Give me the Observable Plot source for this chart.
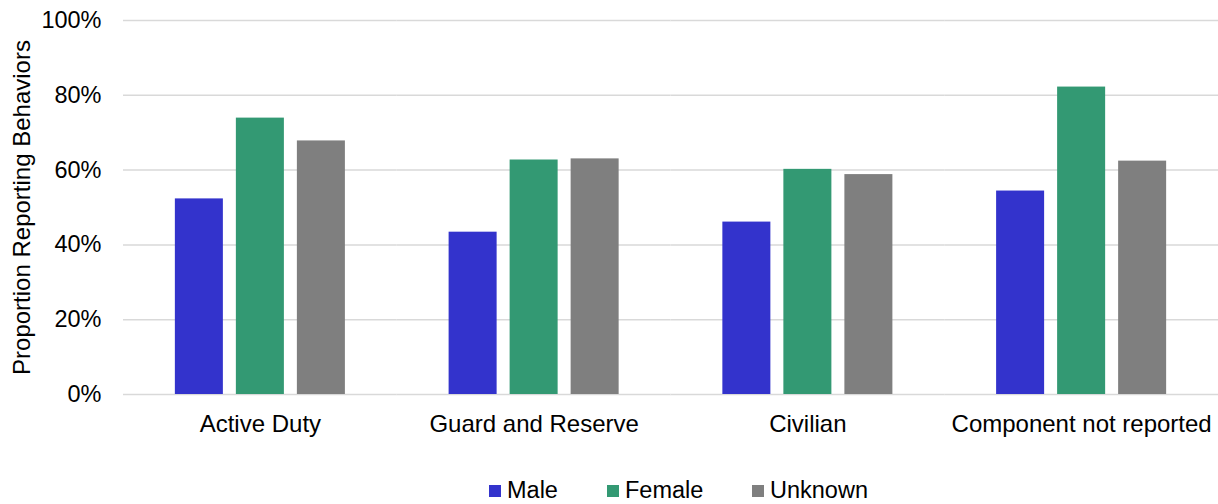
<!DOCTYPE html>
<html>
<head>
<meta charset="utf-8">
<script src="https://cdn.jsdelivr.net/npm/d3@7"></script>
<script src="https://cdn.jsdelivr.net/npm/@observablehq/plot@0.6"></script>
<style>
  html, body { margin: 0; padding: 0; background: #fff; }
  body { width: 1218px; height: 504px; overflow: hidden; font-family: "Liberation Sans", Arial, sans-serif; }
  #legend { position: relative; height: 54px; }
  .item { position: absolute; top: 29px; font-size: 23.5px; color: #000; line-height: 1; display: flex; align-items: center; }
  .sw { width: 12px; height: 12px; margin-right: 6px; display: inline-block; }
</style>
</head>
<body>
<div id="chart"></div>
<div id="legend"></div>
<script>
const categories = ["Active Duty", "Guard and Reserve", "Civilian", "Component not reported"];
const genders = ["Male", "Female", "Unknown"];
const colors = ["#3333cc", "#339973", "#7f7f7f"];
const male = [52.3, 43.4, 46.1, 54.4];
const female = [73.9, 62.7, 60.2, 82.2];
const unknown = [67.8, 63.0, 58.8, 62.4];
const yTicks = [0, 20, 40, 60, 80, 100];

const series = [male, female, unknown];
const data = [];
categories.forEach((c, i) => {
  genders.forEach((g, j) => data.push({category: c, gender: g, value: series[j][i]}));
});

const chart = Plot.plot({
  width: 1218,
  height: 450,
  marginLeft: 123,
  marginRight: 0,
  marginTop: 20,
  marginBottom: 56,
  style: {fontFamily: "'Liberation Sans', Arial, sans-serif", fontSize: "23.5px", color: "#000", background: "#fff"},
  fx: {domain: categories, padding: 0, round: false, label: null, axis: null},
  x: {domain: genders, paddingInner: 0.213, paddingOuter: 0.85, round: false, axis: null},
  y: {domain: [0, 100], ticks: yTicks, label: null, axis: null},
  color: {domain: genders, range: colors},
  marks: [
    Plot.ruleY(yTicks, {stroke: "#d9d9d9", strokeWidth: 1.5, facet: "exclude"}),
    Plot.barY(data, {fx: "category", x: "gender", y: "value", fill: "gender"}),
    Plot.axisY({ticks: yTicks, tickSize: 0, tickPadding: 22, tickFormat: d => d + "%", fontSize: 23.5, label: null, anchor: "left"}),
    Plot.axisFx({anchor: "bottom", tickSize: 0, tickPadding: 20, fontSize: 24, label: null})
  ]
});
document.getElementById("chart").appendChild(chart);

// y-axis title
const svg = d3.select(chart);
svg.append("text")
  .attr("transform", "translate(21,207.5) rotate(-90)")
  .attr("text-anchor", "middle")
  .attr("dominant-baseline", "central")
  .attr("font-size", "24px")
  .attr("fill", "#000")
  .text("Proportion Reporting Behaviors");

// legend
const legendX = [489, 607, 752];
const legend = document.getElementById("legend");
genders.forEach((g, i) => {
  const item = document.createElement("div");
  item.className = "item";
  item.style.left = legendX[i] + "px";
  item.innerHTML = `<span class="sw" style="background:${colors[i]}"></span><span>${g}</span>`;
  legend.appendChild(item);
});
</script>
</body>
</html>
